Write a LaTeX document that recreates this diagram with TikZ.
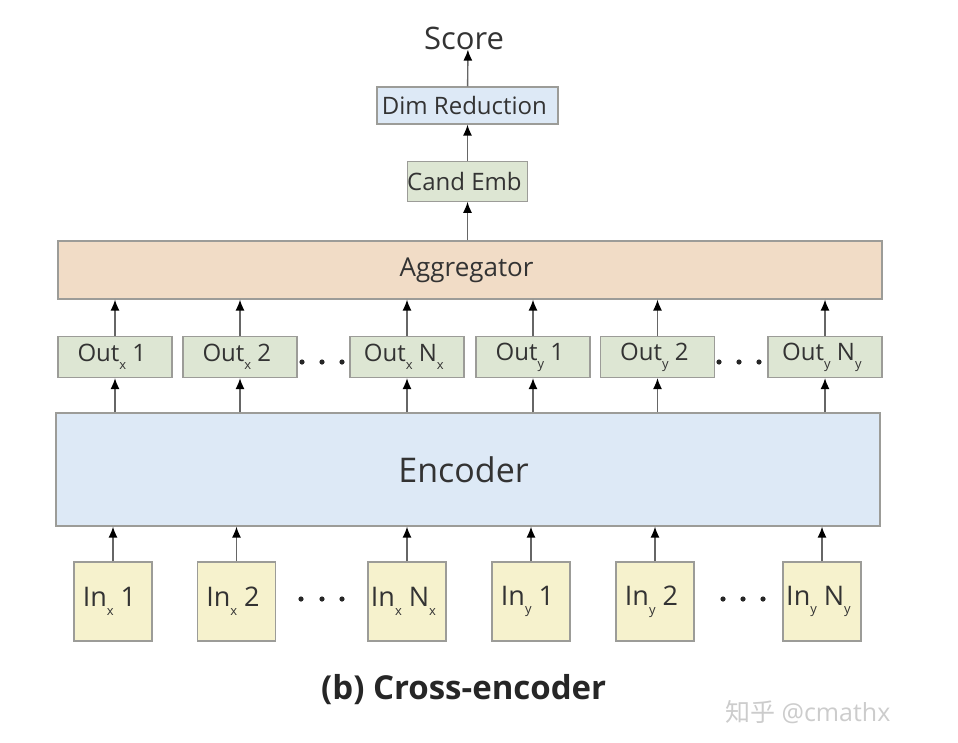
\documentclass[tikz,border=0pt]{standalone}
\usepackage{fontspec}
\setmainfont{Open Sans}
\newfontfamily\cjk{Noto Sans CJK SC}
\usepackage{tikz}
\usetikzlibrary{positioning,arrows.meta}
\definecolor{txt}{HTML}{333333}
\definecolor{edge}{HTML}{9C9C98}
\definecolor{bluefill}{HTML}{DDE9F6}
\definecolor{greenfill}{HTML}{DDE6D3}
\definecolor{peachfill}{HTML}{F1DCC6}
\definecolor{yellowfill}{HTML}{F6F2CD}
\definecolor{linec}{HTML}{666666}
\newcommand{\lo}[1]{\raisebox{-.6ex}{\fontsize{13}{13}\selectfont #1}}

\begin{document}
\begin{tikzpicture}[x = 1pt, y = -1pt,
    every node/.style = { align = center, text = txt, inner sep = 0pt },
    box/.style = { draw = edge, line width = 1.2pt, font = \fontsize{24}{26}\selectfont },
    outbox/.style = { box, fill = greenfill, minimum width = 114pt, minimum height = 41pt },
    inbox/.style = { box, fill = yellowfill, minimum width = 78pt, minimum height = 79pt, font = \fontsize{27}{29}\selectfont },
    up/.style = { draw = linec, line width = 1.4pt, -{Latex[length = 11pt, width = 9pt, color = black]} }
  ]
  \useasboundingbox (0,0) rectangle (958,742);

  \node (score) at (468,38) { \fontsize{31}{33}\selectfont Score };
  \node [box, fill = bluefill, minimum width = 181pt, minimum height = 37pt] (dim) at (467.5,105.5) { Dim Reduction };
  \node [box, fill = greenfill, minimum width = 114pt, minimum height = 40pt, below = 36pt of dim] (cand) { Cand Emb };
  \node [box, fill = peachfill, minimum width = 824pt, minimum height = 58pt, font = \fontsize{26}{28}\selectfont] (agg) at (470,270) { Aggregator };

  \node [outbox] (ox1) at (115,357)   { Out\lo{x} 1 };
  \node [outbox] (ox2) at (240,357)   { Out\lo{x} 2 };
  \node [outbox] (oxn) at (407,357)   { Out\lo{x} N\lo{x} };
  \node [outbox] (oy1) at (533,357)   { Out\lo{y} 1 };
  \node [outbox] (oy2) at (657.5,357) { Out\lo{y} 2 };
  \node [outbox] (oyn) at (825,357)   { Out\lo{y} N\lo{y} };

  \node [box, fill = bluefill, minimum width = 824pt, minimum height = 113pt, font = \fontsize{34}{36}\selectfont] (enc) at (468,469.5) { Encoder };

  \node [inbox] (ix1) at (113,601.5)   { In\lo{x} 1 };
  \node [inbox] (ix2) at (236.5,601.5) { In\lo{x} 2 };
  \node [inbox] (ixn) at (407,601.5)   { In\lo{x} N\lo{x} };
  \node [inbox] (iy1) at (531,601.5)   { In\lo{y} 1 };
  \node [inbox] (iy2) at (655,601.5)   { In\lo{y} 2 };
  \node [inbox] (iyn) at (822,601.5)   { In\lo{y} N\lo{y} };

  % dots between the boxes
  \foreach \cx in {302,322,342,719,739,759} \fill [black!85] (\cx,362) circle (2.6pt);
  \foreach \cx in {301,322,342,723,743,763} \fill [black!85] (\cx,599) circle (2.6pt);

  % arrows
  \draw [up] (dim) -- (score);
  \draw [up] (cand) -- (dim);
  \draw [up] (agg.north -| cand) -- (cand);
  \foreach \o in {ox1,ox2,oxn,oy1,oy2,oyn} {
    \draw [up] (enc.north -| \o) -- (\o);
    \draw [up] (\o) -- (agg.south -| \o);
  }
  \foreach \i in {ix1,ix2,ixn,iy1,iy2,iyn}
    \draw [up] (\i) -- (enc.south -| \i);

  \node [font = \fontsize{33}{35}\selectfont\bfseries, text = black!85] (caption) at (468,690) { (b) Cross-encoder };
  \node [font = \fontsize{25}{27}\selectfont, text = black!20] (mark) at (811,712) { {\cjk 知乎} @cmathx };
\end{tikzpicture}
\end{document}
